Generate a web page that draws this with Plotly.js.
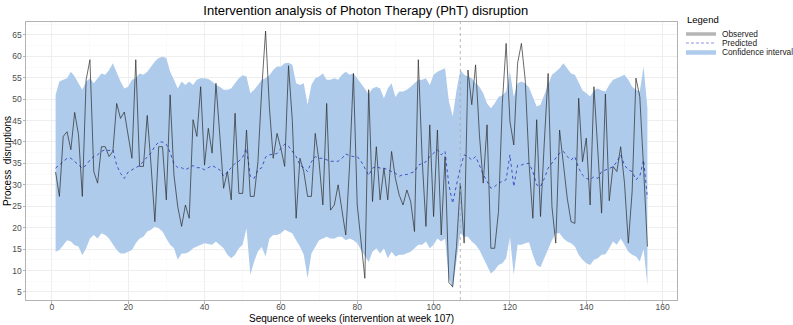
<!DOCTYPE html>
<html>
<head>
<meta charset="utf-8">
<script src="https://cdn.plot.ly/plotly-3.0.1.min.js"></script>
<style>html,body{margin:0;padding:0;background:#fff;}#chart{width:793px;height:325px;}</style>
</head>
<body>
<div id="chart"></div>
<script>
const observed = [33,27.3,41.3,42.4,38.2,46.9,41.7,27.3,54.5,59.2,33.1,30.4,38.9,38.9,36.6,37.8,49,45.5,47,42,
36.2,59.2,34.3,34.3,46.2,34.6,21.4,38.9,38.9,26.5,51,32.3,24.9,20.3,25.3,22.2,45.2,41.3,52.9,34.6,
43.2,37.4,53.7,41.7,29.2,33.1,26.5,46.7,28,28,42.8,27.3,27.3,35.4,52.5,65.9,48,36.2,42,38.5,
34.3,57.8,45,22.2,36.2,33.1,27.3,27.3,42,35.4,25.3,49,24.1,25.3,30,24.1,18.3,34.6,56,25.3,
16,8.2,52.2,26.1,38.9,26.5,33.9,26.5,37.8,31.5,27.6,25.3,28.8,26.1,19.1,59.2,36.2,20.3,44,22.6,
42.8,18.3,36.6,7.2,6.2,15.6,30.4,16.4,56.8,48.7,58,41.7,30.4,44,15.2,15.2,23.8,49,63,44.8,
39.3,58.4,63,54.5,35,22.2,45.2,22.6,40,56,24.9,16.4,42.8,34.6,26.9,21.4,21,50.2,35.4,40.9,
25.3,52.9,37,23.4,51.2,26.3,34.3,33.1,38.9,30.4,16.4,28.4,54.9,50.6,33.9,15.6];

const predicted = [33.9,34.6,35.4,36.2,36.2,35.4,34.6,33.9,34.6,35.8,36.6,37,37.8,38.2,38,38.2,34.6,32.7,31.5,33,
33.5,34,34.5,35.5,36.5,37.5,39,40,40,39.5,37.5,35,34,34,33.5,34,34.5,34,34,33.5,
34,34.5,34,33.5,32,33,34,35,35.5,36.5,38.5,32,31.5,33.5,34,36.5,37,37.2,37.3,38.5,
39.5,39,37.8,36.6,34.6,34,33.1,35.4,36.6,36.2,36.2,35.9,35.5,35.5,35.5,36.2,37.2,36.8,36.6,36.6,
35.5,33.9,32.2,33.9,34.3,33.9,33.9,33.5,33.1,32.7,32,32.4,32.4,32.7,33.1,34.6,35,35.4,36.6,37.4,
38.2,37,37.8,30,25.7,30,34,37,36.6,35.8,36.6,34.6,32.4,30.8,29.2,29.6,30.4,30.8,31.2,37,
29.6,34.6,34.6,35,35,33.1,30,29.6,31.5,33.9,35,36.2,37.4,37.8,36.6,35.8,36.6,33.9,32.3,31.5,
31.2,31.9,31.5,33.1,33.5,33.9,34.2,35.4,37,34.6,33.5,33.1,31.2,32,35.8,26.9];

const upperCI = [51,54.1,54.5,54.9,56.4,55.3,53.7,52.2,54.1,54.9,53.7,54.9,56,55.7,56.8,58.4,56,54.1,52.5,52.9,
54.5,54.9,56,55.7,56.4,57.6,58.8,59.6,59.9,59.6,56.4,54.5,52.5,54.1,53.3,54.1,53.3,54.5,54.9,54.9,
54.7,54.1,53.3,52.9,52.2,52.2,52.5,53.7,54.9,55.6,55.3,51.4,52.2,53.3,54.5,54.9,55.6,56.8,57.6,57.6,
58.4,58.5,58,53.7,53.3,53.7,48.7,53.3,54.9,55.3,56,54.5,54.5,54.9,54.5,55.7,56.4,55.7,56,54.9,
53.7,52.5,51.2,52.5,52.9,52.5,50.2,52.5,53.7,50.5,51.8,51.8,52.2,52.9,53.7,54.5,54.5,54.9,53.3,55.7,
56.4,56.8,57.2,49.5,46,52,56.8,55.7,55.3,54.9,53.7,52.9,51.4,49,47.9,49,50.5,50.9,51.8,56.4,
50.5,53.7,54.1,53.7,52.7,50.6,48.3,48.7,51,53.7,55.7,56.4,57.2,58.4,57.2,56,55.7,53.7,52.1,51.4,
50.6,52.1,52.5,52,51.8,53.3,54.5,54.9,55.3,55.7,54.5,52.9,52.2,51.8,57.6,47.9];

const lowerCI = [14.4,14.8,15.9,17.1,16.8,15.9,15.6,13.6,15.2,17.5,18.3,17.5,18.7,18.3,17.5,16,14.8,14,14,14.4,
14.8,16.4,17.5,17.9,19.1,19.5,20.3,19.9,19.1,17.5,16,15.2,12.5,14,14,14.4,15.2,15.6,16,16.4,
16.2,16,16.8,16,15.2,13.7,12.9,13.7,15.2,16,19.9,9,12.1,14.5,15.5,13.3,17.5,18.3,18.3,18.7,
19.5,19.1,18.7,17.1,15.6,13.7,8.2,14,15.6,17.1,17.5,17.9,17.5,17.5,17.9,17.9,17.1,17.5,17.1,16.4,
14.8,13.3,12,14.4,15.2,14,15.2,12.9,14.4,13.3,13.7,13.7,14,14.4,15.2,16,16,16.8,15.2,16,
17.5,16.8,17.5,8.2,5.8,12,18.7,17.9,17.9,16.8,16,14.8,12.9,11.3,9.3,10.1,11.3,11.7,12.9,17.9,
9,16,16,16.4,16.6,13.7,11.3,10.8,12.9,15.2,17.1,18.7,18.7,17.5,16.8,16.4,15.6,13.7,12.5,11.7,
11.3,12.5,12.9,13.7,13.8,15.2,16.8,16,17.5,16,14.4,13.7,13.3,12.1,15,6.6];

const interventionWeek = 107;
const xTicks = [0,20,40,60,80,100,120,140,160];
const yTicks = [5,10,15,20,25,30,35,40,45,50,55,60,65];
const legendLabels = ['Observed', 'Predicted', 'Confidence interval'];

const weeks = observed.map((_, i) => i + 1);

const bandColor = '#aecbeb';
const traces = [
  {x: weeks, y: upperCI, type: 'scatter', mode: 'lines', line: {width: 0, color: bandColor}, showlegend: false, hoverinfo: 'skip'},
  {x: weeks, y: lowerCI, type: 'scatter', mode: 'lines', line: {width: 0, color: bandColor}, fill: 'tonexty', fillcolor: bandColor, showlegend: false, hoverinfo: 'skip'},
  {x: weeks, y: predicted, type: 'scatter', mode: 'lines', line: {width: 1, color: '#3f51c8', dash: 'dot'}, showlegend: false},
  {x: weeks, y: observed, type: 'scatter', mode: 'lines', line: {width: 0.7, color: '#2a2a2a'}, showlegend: false}
];

const fontFam = 'Liberation Sans, Arial, sans-serif';

// manual legend (positions in paper coords)
const legX0 = 1.0138, legX1 = 1.0599, legTextX = 1.0661;
const legY = [0.9568, 0.9245, 0.8903];
const legStyles = [
  {color: '#b5b5b5', width: 3.5},
  {color: '#8f93e3', width: 1, dash: '3px,2px'},
  {color: bandColor, width: 4.5}
];
const shapes = [{type: 'line', xref: 'x', yref: 'paper', x0: interventionWeek, x1: interventionWeek, y0: 0, y1: 1, line: {color: '#a8a8a8', width: 0.8, dash: '3px,3px'}}];
const annotations = [
  {text: 'Legend', xref: 'paper', yref: 'paper', x: 1.0123, y: 1.0072, xanchor: 'left', yanchor: 'middle', showarrow: false, font: {size: 9.5, color: '#000'}},
  {text: 'Sequence of weeks (intervention at week 107)', xref: 'paper', yref: 'paper', x: 0.5, y: -0.0683, xanchor: 'center', yanchor: 'middle', showarrow: false, font: {size: 10, color: '#000'}},
  {text: 'Process  disruptions', xref: 'paper', yref: 'paper', x: -0.0292, y: 0.5, xanchor: 'center', yanchor: 'middle', textangle: -90, showarrow: false, font: {size: 10, color: '#000'}}
];
legendLabels.forEach((lab, i) => {
  shapes.push({type: 'line', xref: 'paper', yref: 'paper', x0: legX0, x1: legX1, y0: legY[i], y1: legY[i], line: legStyles[i]});
  annotations.push({text: lab, xref: 'paper', yref: 'paper', x: legTextX, y: legY[i], xanchor: 'left', yanchor: 'middle', showarrow: false, font: {size: 8.3, color: '#1a1a1a'}});
});

const layout = {
  width: 793, height: 325,
  margin: {l: 26, r: 116, t: 22, b: 25},
  paper_bgcolor: '#ffffff', plot_bgcolor: '#ffffff',
  font: {family: fontFam, color: '#000'},
  title: {text: 'Intervention analysis of Photon Therapy (PhT) disruption', font: {size: 13, color: '#000', family: fontFam}, x: 0.522, xref: 'paper', xanchor: 'center', yref: 'container', y: 0.969, yanchor: 'middle'},
  xaxis: {
    range: [-6.75, 163.75], tickvals: xTicks, ticktext: xTicks.map(String),
    showgrid: true, gridcolor: '#ebebeb', gridwidth: 0.8,
    minor: {dtick: 10, tick0: 0, showgrid: true, gridcolor: '#f5f5f5', gridwidth: 0.5},
    showline: true, mirror: true, linecolor: '#b3b3b3', linewidth: 1,
    ticks: 'outside', ticklen: 2.5, tickcolor: '#b3b3b3', ticklabelstandoff: -4,
    tickfont: {size: 8.5, color: '#4d4d4d'}, zeroline: false
  },
  yaxis: {
    range: [3.13, 68.0], tickvals: yTicks, ticktext: yTicks.map(String),
    showgrid: true, gridcolor: '#ebebeb', gridwidth: 0.8,
    minor: {dtick: 2.5, tick0: 0, showgrid: true, gridcolor: '#f5f5f5', gridwidth: 0.5},
    showline: true, mirror: true, linecolor: '#b3b3b3', linewidth: 1,
    ticks: 'outside', ticklen: 2.5, tickcolor: '#b3b3b3', ticklabelstandoff: -1,
    tickfont: {size: 8.5, color: '#4d4d4d'}, zeroline: false
  },
  shapes: shapes,
  annotations: annotations,
  showlegend: false
};

Plotly.newPlot('chart', traces, layout, {staticPlot: true, displayModeBar: false});
</script>
</body>
</html>
